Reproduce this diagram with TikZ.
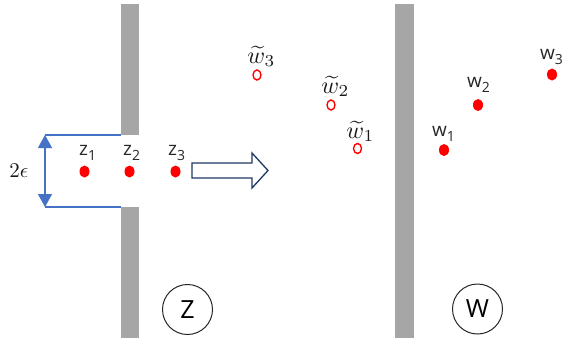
\documentclass[tikz,border=0pt]{standalone}
\usepackage{fontspec}
\setmainfont{Open Sans}
\usetikzlibrary{arrows.meta,shapes.geometric}
\definecolor{wallgray}{HTML}{A6A6A6}
\definecolor{bracketblue}{HTML}{4472C4}
\definecolor{arrownavy}{HTML}{203864}
\definecolor{dotred}{HTML}{FF0000}
\newcommand{\sublab}[2]{{\fontsize{19}{19}\selectfont #1}\raisebox{-5pt}{\fontsize{14}{14}\selectfont #2}}
\newcommand{\tillab}[2]{$\widetilde{w}_{#2}$}
\begin{document}
\begin{tikzpicture}[x=1pt,y=-1pt,
  lab/.style={anchor=base west,inner sep=0pt,text=black!85},
  mlab/.style={anchor=base west,inner sep=0pt,text=black!90,scale=2.4},
  fulldot/.style={ellipse,fill=dotred,inner sep=0pt,minimum width=10pt,minimum height=12pt},
  opendot/.style={ellipse,draw=dotred,line width=1.4pt,inner sep=0pt,minimum width=8pt,minimum height=10pt},
  spacecirc/.style={circle,draw=black!85,line width=1pt,minimum size=50pt,inner sep=0pt,font=\fontsize{25}{25}\selectfont},
  wall/.style={fill=wallgray},
  bracket/.style={draw=bracketblue,line width=1.3pt},
  blockarrow/.style={draw=arrownavy,line width=1.3pt,fill=white,line join=miter}]
\useasboundingbox (0,0) rectangle (564,338);
% walls
\fill[wall] (121,4) rectangle (139,135);
\fill[wall] (121,207) rectangle (139,338);
\fill[wall] (395,4) rectangle (414,338);
% bracket
\coordinate (bt) at (45,135);
\coordinate (bb) at (45,207);
\coordinate (wt) at (121,135);
\coordinate (wb) at (121,207);
\draw[bracket] (wt) -- (bt);
\draw[bracket] (wb) -- (bb);
\draw[bracket,{Triangle[width=14pt,length=13pt]}-{Triangle[width=14pt,length=13pt]}] (bt) -- (bb);
\node[anchor=base,inner sep=0pt,scale=2.1,text=black!90] (eps) at (19,177) {$2\epsilon$};
% z points
\node[fulldot] (z1) at (84.5,171.5) {};
\node[fulldot] (z2) at (129.5,171.5) {};
\node[fulldot] (z3) at (175.5,171.5) {};
\node[lab] (lz1) at (79,155) {\sublab{z}{1}};
\node[lab] (lz2) at (123,155) {\sublab{z}{2}};
\node[lab] (lz3) at (168,155) {\sublab{z}{3}};
% block arrow
\draw[blockarrow] (192,163) -- (252,163) -- (252,153) -- (268,170.5) -- (252,188) -- (252,178) -- (192,178) -- cycle;
% tilde w points
\node[opendot] (tw3) at (257,75) {};
\node[opendot] (tw2) at (331,105) {};
\node[opendot] (tw1) at (357.5,148.5) {};
\node[mlab] (ltw3) at (247,63) {\tillab{w}{3}};
\node[mlab] (ltw2) at (321,93) {\tillab{w}{2}};
\node[mlab] (ltw1) at (346,138) {\tillab{w}{1}};
% w points
\node[fulldot] (w1) at (444,150) {};
\node[fulldot] (w2) at (478,105) {};
\node[fulldot] (w3) at (552,74.5) {};
\node[lab] (lw1) at (432,136) {\sublab{w}{1}};
\node[lab] (lw2) at (467,87) {\sublab{w}{2}};
\node[lab] (lw3) at (540,59) {\sublab{w}{3}};
% space labels
\node[spacecirc] (Z) at (187.5,309.5) {Z};
\node[spacecirc] (W) at (477.5,309) {W};
\end{tikzpicture}
\end{document}
